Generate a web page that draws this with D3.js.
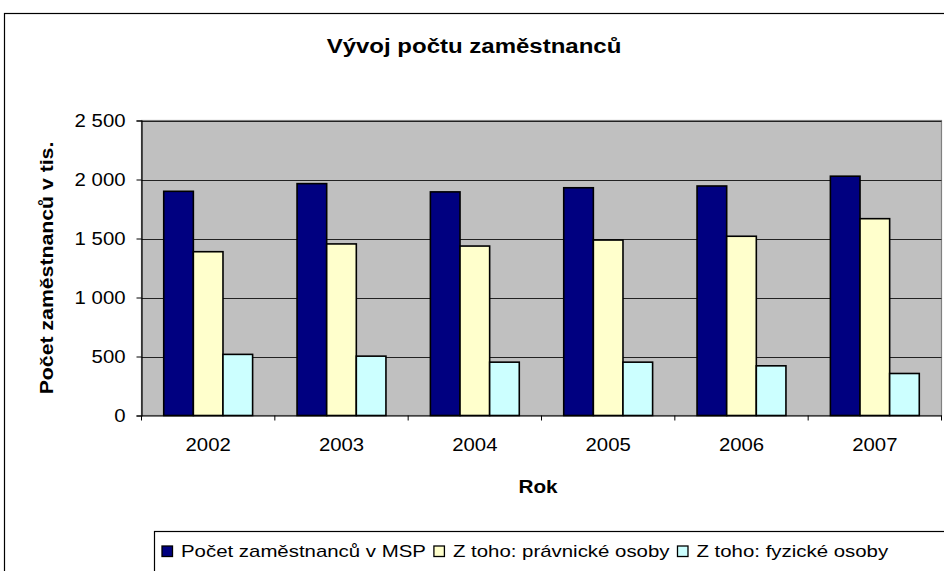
<!DOCTYPE html>
<html>
<head>
<meta charset="utf-8">
<script src="https://cdn.jsdelivr.net/npm/d3@7"></script>
<style>
  body { margin: 0; background: #fff; }
  svg { display: block; font-family: "Liberation Sans", Arial, sans-serif; }
</style>
</head>
<body>
<svg id="chart" width="944" height="571"></svg>
<script>
// data (thousands of employees)
const years = ["2002", "2003", "2004", "2005", "2006", "2007"];
const seriesNames = ["Počet zaměstnanců v MSP", "Z toho: právnické osoby", "Z toho: fyzické osoby"];
const totalMSP = [1900, 1965, 1895, 1930, 1945, 2028];
const legalPersons = [1388, 1454, 1436, 1487, 1519, 1668];
const naturalPersons = [518, 503, 452, 452, 421, 356];
const yTicks = [0, 500, 1000, 1500, 2000, 2500];
const seriesColors = ["#000080", "#FFFFCC", "#CCFFFF"];

const seriesValues = [totalMSP, legalPersons, naturalPersons];
const rows = years.map((y, i) => ({ year: y, values: seriesValues.map(s => s[i]) }));

const svg = d3.select("#chart");
const plot = { left: 141.5, top: 120.5, right: 941.5, bottom: 415.5 };

// the old excel text is wider than liberation sans, stretch it a bit
function stretch(sel, factor) {
    sel.each(function() {
        const w = this.getComputedTextLength();
        d3.select(this).attr("textLength", w * factor).attr("lengthAdjust", "spacingAndGlyphs");
    });
}

// outer chart frame (runs off the right and bottom edge)
svg.append("rect")
    .attr("x", 4.5).attr("y", 13.5)
    .attr("width", 960).attr("height", 600)
    .attr("fill", "#fff")
    .attr("stroke", "#000").attr("stroke-width", 1.2);

svg.append("text")
    .attr("x", 474).attr("y", 53)
    .attr("text-anchor", "middle")
    .style("font-size", "20px").style("font-weight", "bold")
    .text("Vývoj počtu zaměstnanců")
    .call(stretch, 1.2);

const x = d3.scaleBand().domain(years).range([plot.left, plot.right]);
const inner = d3.scaleBand().domain(d3.range(3)).range([0, x.bandwidth()])
    .paddingInner(0).paddingOuter(0.75);
const y = d3.scaleLinear().domain([0, 2500]).range([plot.bottom, plot.top]);

// plot background
svg.append("rect")
    .attr("x", plot.left).attr("y", plot.top)
    .attr("width", plot.right - plot.left).attr("height", plot.bottom - plot.top)
    .attr("fill", "#C0C0C0")
    .attr("stroke", "#808080").attr("stroke-width", 1.2);

// gridlines
svg.append("g").selectAll("line")
    .data(yTicks.filter(t => t > 0))
    .join("line")
    .attr("x1", plot.left).attr("x2", plot.right)
    .attr("y1", d => Math.round(y(d)) + 0.5).attr("y2", d => Math.round(y(d)) + 0.5)
    .attr("stroke", "#222").attr("stroke-width", 1);

// bars
const groups = svg.append("g").selectAll("g")
    .data(rows).join("g")
    .attr("transform", d => `translate(${x(d.year)},0)`);

groups.selectAll("rect")
    .data(d => d.values.map((v, i) => ({ i, v })))
    .join("rect")
    .attr("x", d => inner(d.i))
    .attr("y", d => y(d.v))
    .attr("width", inner.bandwidth())
    .attr("height", d => y(0) - y(d.v))
    .attr("fill", d => seriesColors[d.i])
    .attr("stroke", "#000").attr("stroke-width", 1.6);

// y axis
const yAxis = d3.axisLeft(y).tickValues(yTicks).tickSize(5).tickPadding(11)
    .tickFormat(d => d3.format(",")(d).replace(/,/g, " "));
svg.append("g")
    .attr("transform", `translate(${plot.left},0)`)
    .call(yAxis)
    .call(g => g.select(".domain").attr("stroke", "#000").attr("stroke-width", 1.2))
    .call(g => g.selectAll(".tick line").attr("stroke", "#000"))
    .call(g => g.selectAll("text").style("font-size", "18px").attr("fill", "#000")
        .attr("font-family", null).call(stretch, 1.13));

// x axis
const xAxis = d3.axisBottom(x).tickSize(0).tickPadding(23);
svg.append("g")
    .attr("transform", `translate(0,${plot.bottom})`)
    .call(xAxis)
    .call(g => g.select(".domain").attr("stroke", "#000").attr("stroke-width", 1.2))
    .call(g => g.selectAll("text").style("font-size", "18px").attr("fill", "#000")
        .attr("font-family", null).call(stretch, 1.13));

// category separator ticks
svg.append("g").selectAll("line")
    .data(years.concat(["end"]))
    .join("line")
    .attr("x1", (d, i) => i < years.length ? x(d) : plot.right)
    .attr("x2", (d, i) => i < years.length ? x(d) : plot.right)
    .attr("y1", plot.bottom).attr("y2", plot.bottom + 5)
    .attr("stroke", "#000");

// axis titles
svg.append("text")
    .attr("x", 538).attr("y", 493)
    .attr("text-anchor", "middle")
    .style("font-size", "18px").style("font-weight", "bold")
    .text("Rok")
    .call(stretch, 1.15);

svg.append("text")
    .attr("transform", `translate(53,${(plot.top + plot.bottom) / 2}) rotate(-90)`)
    .attr("text-anchor", "middle")
    .style("font-size", "18px").style("font-weight", "bold")
    .text("Počet zaměstnanců v tis.")
    .call(stretch, 1.18);

// legend
const legend = svg.append("g");
legend.append("rect")
    .attr("x", 154.5).attr("y", 531.5)
    .attr("width", 800).attr("height", 60)
    .attr("fill", "#fff").attr("stroke", "#000").attr("stroke-width", 1.2);

let lx = 162;
seriesNames.forEach((name, i) => {
    legend.append("rect")
        .attr("x", lx).attr("y", 546)
        .attr("width", 10.5).attr("height", 10.5)
        .attr("fill", seriesColors[i]).attr("stroke", "#000").attr("stroke-width", 1.3);
    const t = legend.append("text")
        .attr("x", lx + 19).attr("y", 557)
        .style("font-size", "17px")
        .text(name)
        .call(stretch, 1.2);
    lx += 19 + +t.attr("textLength") + 8;
});
</script>
</body>
</html>
